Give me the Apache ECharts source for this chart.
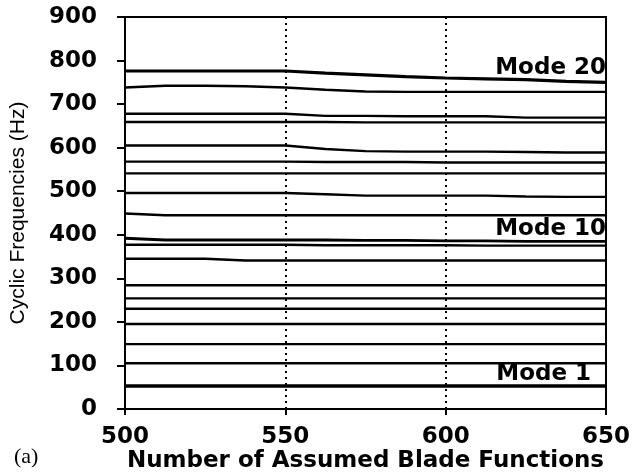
<!DOCTYPE html>
<html>
<head>
<meta charset="utf-8">
<script src="https://cdn.jsdelivr.net/npm/echarts@6/dist/echarts.min.js"></script>
<style>
html,body{margin:0;padding:0;background:#fff;}
#chart{width:633px;height:472px;}
</style>
</head>
<body>
<div id="chart"></div>
<script>
// Number of assumed blade functions (x positions of the samples)
const bladeFunctions = [500, 512.5, 525, 537.5, 550, 562.5, 575, 587.5, 600, 612.5, 625, 637.5, 650];
const xTicks = [500, 550, 600, 650];
const yTicks = [0, 100, 200, 300, 400, 500, 600, 700, 800, 900];

// Cyclic frequencies (Hz), one array per mode line, bottom to top
const mode1  = [53, 53, 53, 53, 53, 53, 53, 53, 53, 53, 53, 53, 53];
const mode2  = [105, 105, 105, 105, 105, 105, 105, 105, 105, 105, 105, 105, 105];
const mode3  = [149, 149, 149, 149, 149, 149, 149, 149, 149, 149, 149, 149, 149];
const mode4  = [195, 195, 195, 195, 195, 195, 195, 195, 195, 195, 195, 195, 195];
const mode5  = [230, 230, 230, 230, 230, 230, 230, 230, 230, 230, 230, 230, 230];
const mode6  = [254, 254, 254, 254, 254, 254, 254, 254, 254, 254, 254, 254, 254];
const mode7  = [284, 284, 284, 284, 284, 284, 284, 284, 284, 284, 284, 284, 284];
const mode8  = [345, 345, 345, 341, 341, 341, 341, 341, 341, 341, 341, 341, 341];
const mode9  = [377, 377, 377, 377, 377, 376, 376, 376, 376, 375, 375, 375, 375];
const mode10 = [392, 388, 388, 388, 388, 388, 387, 387, 386, 386, 385, 385, 385];
const mode11 = [449, 445, 445, 445, 445, 445, 445, 445, 445, 445, 445, 445, 445];
const mode12 = [496, 496, 496, 496, 496, 493, 490, 490, 490, 490, 488, 487, 487];
const mode13 = [541, 541, 541, 541, 541, 541, 541, 541, 541, 541, 541, 541, 541];
const mode14 = [568, 568, 568, 568, 568, 567, 567, 567, 566, 566, 566, 566, 566];
const mode15 = [605, 605, 605, 605, 605, 597, 592, 591, 591, 591, 590, 589, 589];
const mode16 = [659, 659, 659, 659, 659, 659, 658, 658, 658, 658, 658, 658, 658];
const mode17 = [678, 678, 678, 678, 678, 673, 673, 672, 672, 672, 669, 669, 669];
const mode18 = [738, 742, 742, 741, 738, 733, 729, 728, 728, 728, 728, 728, 728];
const mode20 = [776, 776, 776, 776, 776, 771, 767, 763, 760, 758, 756, 752, 750];

const modes = [
  {name: 'Mode 1', values: mode1, label: 'Mode 1'},
  {name: 'Mode 2', values: mode2},
  {name: 'Mode 3', values: mode3},
  {name: 'Mode 4', values: mode4},
  {name: 'Mode 5', values: mode5},
  {name: 'Mode 6', values: mode6},
  {name: 'Mode 7', values: mode7},
  {name: 'Mode 8', values: mode8},
  {name: 'Mode 9', values: mode9},
  {name: 'Mode 10', values: mode10, label: 'Mode 10'},
  {name: 'Mode 11', values: mode11},
  {name: 'Mode 12', values: mode12},
  {name: 'Mode 13', values: mode13},
  {name: 'Mode 14', values: mode14},
  {name: 'Mode 15', values: mode15},
  {name: 'Mode 16', values: mode16},
  {name: 'Mode 17', values: mode17},
  {name: 'Mode 18', values: mode18},
  {name: 'Mode 20', values: mode20, label: 'Mode 20'}
];

const labelStyle = {
  'Mode 20': {offset: [-8, -3], width: 3.2},
  'Mode 10': {offset: [-8, -1], width: 2.8},
  'Mode 1':  {offset: [-23, 0], width: 3.5}
};

const boldFont = '"DejaVu Sans", sans-serif';
const fs = 23;

const series = modes.map(m => {
  const st = labelStyle[m.name];
  const s = {
    name: m.name,
    type: 'line',
    data: bladeFunctions.map((x, i) => [x, m.values[i]]),
    showSymbol: false,
    symbol: 'none',
    silent: true,
    animation: false,
    lineStyle: {color: '#000', width: st ? st.width : 2.4}
  };
  if (m.label) {
    s.endLabel = {
      show: true,
      formatter: m.label,
      align: 'right',
      verticalAlign: 'bottom',
      offset: st.offset,
      color: '#000',
      fontFamily: boldFont,
      fontWeight: 'bold',
      fontSize: fs
    };
  }
  return s;
});

const chart = echarts.init(document.getElementById('chart'), null, {renderer: 'canvas'});
chart.setOption({
  animation: false,
  backgroundColor: '#fff',
  title: {
    text: '(a)',
    left: 9,
    top: 441,
    textStyle: {fontFamily: '"Liberation Serif", serif', fontWeight: 'normal', fontSize: 22, color: '#000'}
  },
  grid: {
    left: 125, right: 27, top: 17, bottom: 63,
    outerBoundsMode: 'none',
    containLabel: false,
    show: true, borderColor: '#000', borderWidth: 2, backgroundColor: 'transparent'
  },
  xAxis: {
    type: 'value',
    min: xTicks[0], max: xTicks[xTicks.length - 1], interval: 50,
    name: 'Number of Assumed Blade Functions',
    nameLocation: 'middle',
    nameGap: 41,
    nameMoveOverlap: false,
    nameTextStyle: {fontFamily: boldFont, fontWeight: 'bold', fontSize: fs, color: '#000'},
    axisLine: {lineStyle: {color: '#000', width: 2}},
    axisTick: {show: true, inside: false, length: 6, lineStyle: {color: '#000', width: 2}},
    axisLabel: {margin: 17, color: '#000', fontFamily: boldFont, fontWeight: 'bold', fontSize: fs},
    splitLine: {show: true, lineStyle: {color: '#000', width: 2, type: [2, 4]}}
  },
  yAxis: {
    type: 'value',
    min: yTicks[0], max: yTicks[yTicks.length - 1], interval: 100,
    name: 'Cyclic Frequencies (Hz)',
    nameLocation: 'middle',
    nameGap: 96,
    nameMoveOverlap: false,
    nameTextStyle: {fontFamily: '"Liberation Sans Narrow", "Liberation Sans", Arial, sans-serif', fontSize: 21, color: '#000'},
    axisLine: {show: true, lineStyle: {color: '#000', width: 2}},
    axisTick: {show: true, inside: false, length: 8, lineStyle: {color: '#000', width: 2}},
    axisLabel: {margin: 28, color: '#000', fontFamily: boldFont, fontWeight: 'bold', fontSize: fs},
    splitLine: {show: false}
  },
  series: series
});
</script>
</body>
</html>
